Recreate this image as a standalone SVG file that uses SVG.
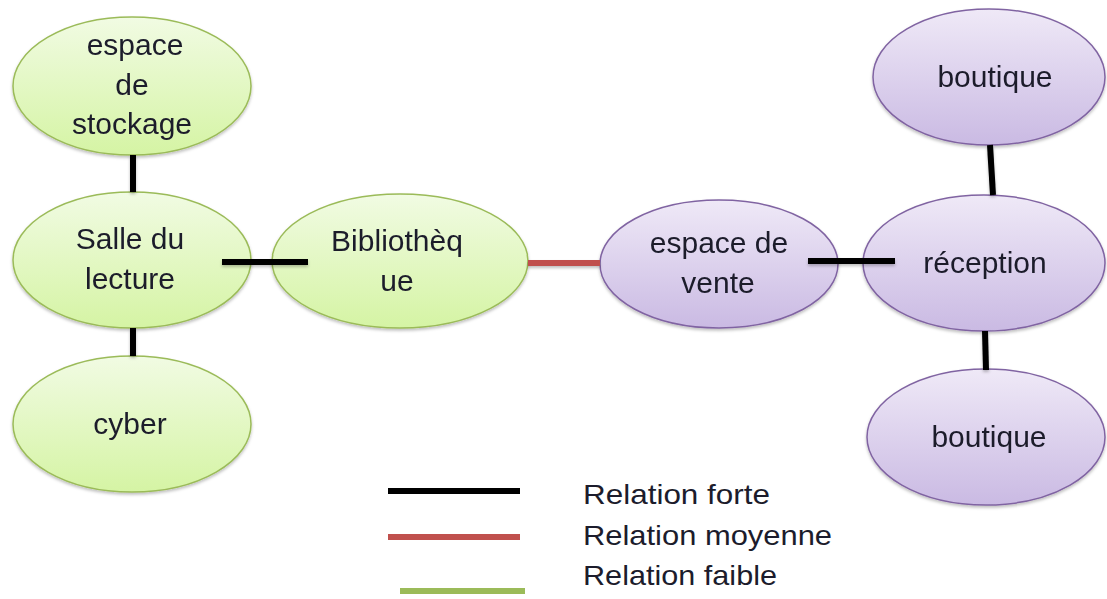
<svg xmlns="http://www.w3.org/2000/svg" width="1107" height="599" viewBox="0 0 1107 599">
<style>
.g{fill:url(#gg);stroke:#9bbb59;stroke-width:1.5}
.p{fill:url(#pg);stroke:#8064a2;stroke-width:1.5}
.t{font-family:"Liberation Sans",Arial,sans-serif;font-size:30px;fill:#1c1c2c;text-anchor:middle}
.l{font-family:"Liberation Sans",Arial,sans-serif;font-size:28px;fill:#1c1c2c}
.k{stroke:#000;stroke-width:6;fill:none}
.r{stroke:#c0504d;stroke-width:6;fill:none}
.f{stroke:#9bbb59;stroke-width:6;fill:none}
</style>
<defs>
<linearGradient id="gg" x1="0" y1="0" x2="0" y2="1">
<stop offset="0" stop-color="#f1fbe3"/><stop offset="1" stop-color="#d5f4a4"/>
</linearGradient>
<linearGradient id="pg" x1="0" y1="0" x2="0" y2="1">
<stop offset="0" stop-color="#efe9f7"/><stop offset="1" stop-color="#cabae3"/>
</linearGradient>
<filter id="sh" x="-10%" y="-10%" width="120%" height="130%">
<feDropShadow dx="0" dy="2" stdDeviation="1.5" flood-color="#000" flood-opacity="0.25"/>
</filter>
</defs>
<rect width="1107" height="599" fill="#fff"/>
<g id="stockage" filter="url(#sh)"><ellipse class="g" cx="132" cy="86" rx="119" ry="69"/>
<text class="t" x="135" y="55">espace</text><text class="t" x="132" y="95">de</text><text class="t" x="132" y="134">stockage</text></g>
<g id="salle" filter="url(#sh)"><ellipse class="g" cx="132" cy="260" rx="119" ry="68"/>
<text class="t" x="130" y="249">Salle du</text><text class="t" x="130" y="289">lecture</text></g>
<g id="cyber" filter="url(#sh)"><ellipse class="g" cx="132" cy="424" rx="119" ry="68"/>
<text class="t" x="130" y="434">cyber</text></g>
<g id="bibliotheque" filter="url(#sh)"><ellipse class="g" cx="400" cy="261" rx="128" ry="67"/>
<text class="t" x="397" y="251">Bibliothèq</text><text class="t" x="397" y="291">ue</text></g>
<g id="vente" filter="url(#sh)"><ellipse class="p" cx="719" cy="264" rx="119" ry="64"/>
<text class="t" x="719" y="253">espace de</text><text class="t" x="718" y="293">vente</text></g>
<g id="reception" filter="url(#sh)"><ellipse class="p" cx="984" cy="263" rx="121" ry="68"/>
<text class="t" x="985" y="273">réception</text></g>
<g id="boutique1" filter="url(#sh)"><ellipse class="p" cx="989" cy="77" rx="116" ry="68"/>
<text class="t" x="995" y="87">boutique</text></g>
<g id="boutique2" filter="url(#sh)"><ellipse class="p" cx="986" cy="437" rx="119" ry="68"/>
<text class="t" x="989" y="447">boutique</text></g>
<g id="connectors" filter="url(#sh)">
<line class="k" x1="133" y1="155" x2="133" y2="192"/>
<line class="k" x1="133" y1="328" x2="133" y2="356"/>
<line class="k" x1="222" y1="262" x2="308" y2="262"/>
<line class="r" x1="528" y1="263" x2="600" y2="263"/>
<line class="k" x1="808" y1="261" x2="895" y2="261"/>
<line class="k" x1="990" y1="145" x2="993" y2="195"/>
<line class="k" x1="985" y1="331" x2="986" y2="370"/>
</g>
<g id="legend">
<line class="k" x1="388" y1="491" x2="520" y2="491"/>
<line class="r" x1="388" y1="537" x2="520" y2="537"/>
<line class="f" x1="400" y1="591" x2="525" y2="591"/>
<text class="l" x="583" y="504" textLength="187" lengthAdjust="spacingAndGlyphs">Relation forte</text>
<text class="l" x="583" y="545" textLength="249" lengthAdjust="spacingAndGlyphs">Relation moyenne</text>
<text class="l" x="583" y="585" textLength="194" lengthAdjust="spacingAndGlyphs">Relation faible</text>
</g>
</svg>
